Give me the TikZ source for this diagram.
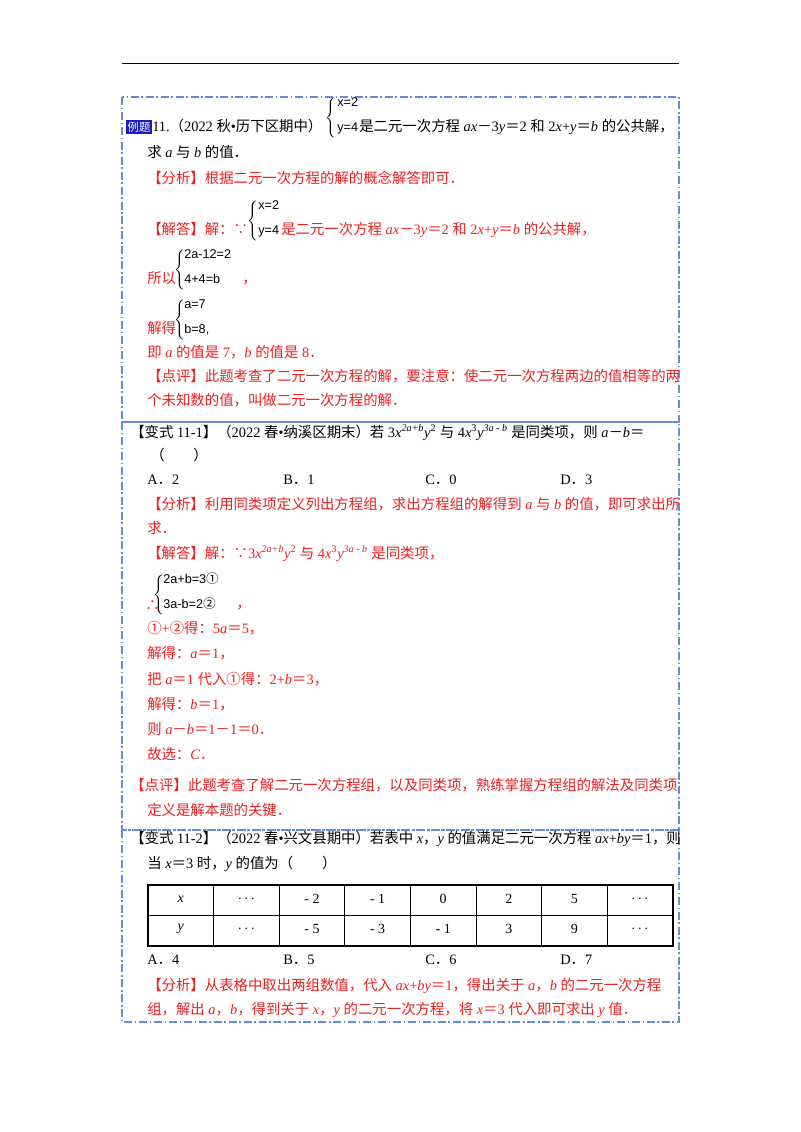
\documentclass[tikz,border=0pt]{standalone}
\usepackage{fontspec}
\setmainfont{Liberation Serif}
\newfontfamily\cjkfont{Noto Sans CJK SC}
\newfontfamily\sansf{Liberation Sans}
\XeTeXinterchartokenstate=1
\newXeTeXintercharclass\cjkcls
\newcount\cc
\def\setrange#1#2{\cc=#1 \loop\XeTeXcharclass\cc=\cjkcls\ifnum\cc<#2 \advance\cc by 1 \repeat}
\setrange{"3000}{"303F}
\setrange{"4E00}{"9FFF}
\setrange{"FF00}{"FFEF}
\setrange{"2234}{"2235}
\setrange{"2460}{"24FF}
\XeTeXinterchartoks 0 \cjkcls = {\begingroup\cjkfont}
\XeTeXinterchartoks 4095 \cjkcls = {\begingroup\cjkfont}
\XeTeXinterchartoks \cjkcls 0 = {\endgroup}
\XeTeXinterchartoks \cjkcls 4095 = {\endgroup}
\newcommand\iv[1]{\textit{#1}}
\definecolor{bd}{RGB}{100,140,215}
\definecolor{rd}{RGB}{240,30,30}
\tikzset{
 t/.style={anchor=base west,inner sep=0pt,font=\fontsize{10.8}{12}\selectfont},
 tr/.style={t,text=rd},
 s/.style={anchor=base west,inner sep=0pt,font=\sansf\fontsize{9.5}{11}\selectfont},
 br/.style={anchor=west,inner sep=0pt},
 frame/.style={draw=bd,line width=0.8pt,dash pattern=on 6pt off 2pt on 1.2pt off 2pt}
}
\newcommand\mybrace{$\left\{\rule[-12pt]{0pt}{24pt}\right.$}
\begin{document}
\begin{tikzpicture}[x=0.75pt,y=-0.75pt]
\useasboundingbox[fill=white] (0,0) rectangle (800,1132);
\draw[line width=0.7pt] (122,63) -- (679,63);
\draw[frame] (122,97) rectangle (679,422);
\draw[frame] (122,422) rectangle (679,830);
\draw[frame] (122,830) rectangle (679,1022);
% box 1
\node[fill=blue!75!black!90,text=white,inner sep=1pt,font=\fontsize{8.5}{9}\selectfont] (lt) at (139,127) {例题};
\node[t] (q1) at (152,131) {11.（2022 秋•历下区期中）};
\node[br] (b1) at (325,118) {\mybrace};
\node[s] (b1a) at (337,106) {x=2};
\node[s] (b1b) at (337,131) {y=4};
\node[t] (q1b) at (359,131) {是二元一次方程 \iv{ax}－3\iv{y}＝2 和 2\iv{x}+\iv{y}＝\iv{b} 的公共解，};
\node[t] (q1c) at (147,157) {求 \iv{a} 与 \iv{b} 的值．};
\node[tr] (a1) at (147,183) {【分析】根据二元一次方程的解的概念解答即可．};
\node[tr] (a2) at (147,234) {【解答】解：∵};
\node[br] (b2) at (247,221) {\mybrace};
\node[s] (b2a) at (258,209) {x=2};
\node[s] (b2b) at (258,234) {y=4};
\node[tr] (a2b) at (281,234) {是二元一次方程 \iv{ax}－3\iv{y}＝2 和 2\iv{x}+\iv{y}＝\iv{b} 的公共解，};
\node[tr] (a3) at (147,283) {所以};
\node[br] (b3) at (174,270) {\mybrace};
\node[s] (b3a) at (184,258) {2a-12=2};
\node[s] (b3b) at (184,283) {4+4=b};
\node[tr] (a3b) at (242,283) {，};
\node[tr] (a4) at (147,333) {解得};
\node[br] (b4) at (174,320) {\mybrace};
\node[s] (b4a) at (184,308) {a=7};
\node[s] (b4b) at (184,333) {b=8,};
\node[tr] (a5) at (147,357) {即 \iv{a} 的值是 7，\iv{b} 的值是 8．};
\node[tr] (a6) at (147,381) {【点评】此题考查了二元一次方程的解，要注意：使二元一次方程两边的值相等的两};
\node[tr] (a7) at (147,405) {个未知数的值，叫做二元一次方程的解．};
% box 2
\node[t] (q2) at (130,437) {【变式 11-1】（2022 春•纳溪区期末）若 3\iv{x}\textsuperscript{\iv{2a+b}}\iv{y}\textsuperscript{2} 与 4\iv{x}\textsuperscript{3}\iv{y}\textsuperscript{\iv{3a} - \iv{b}} 是同类项，则 \iv{a}－\iv{b}＝};
\node[t] (q2b) at (150,460) {（　　）};
\node[t] (o1) at (147,484) {A．2};
\node[t] (o2) at (283,484) {B．1};
\node[t] (o3) at (425,484) {C．0};
\node[t] (o4) at (560,484) {D．3};
\node[tr] (c1) at (147,509) {【分析】利用同类项定义列出方程组，求出方程组的解得到 \iv{a} 与 \iv{b} 的值，即可求出所};
\node[tr] (c2) at (147,533) {求．};
\node[tr] (c3) at (147,558) {【解答】解：∵3\iv{x}\textsuperscript{\iv{2a+b}}\iv{y}\textsuperscript{2} 与 4\iv{x}\textsuperscript{3}\iv{y}\textsuperscript{\iv{3a} - \iv{b}} 是同类项，};
\node[tr] (c4) at (145,610) {∴};
\node[br] (b5) at (153,595) {\mybrace};
\node[s] (b5a) at (163,583) {2a+b=3①};
\node[s] (b5b) at (163,608) {3a-b=2②};
\node[tr] (c4b) at (236,608) {，};
\node[tr] (c5) at (147,633) {①+②得：5\iv{a}＝5，};
\node[tr] (c6) at (147,658) {解得：\iv{a}＝1，};
\node[tr] (c7) at (147,684) {把 \iv{a}＝1 代入①得：2+\iv{b}＝3，};
\node[tr] (c8) at (147,709) {解得：\iv{b}＝1，};
\node[tr] (c9) at (147,734) {则 \iv{a}－\iv{b}＝1－1＝0．};
\node[tr] (c10) at (147,759) {故选：\iv{C}．};
\node[tr] (c11) at (130,790) {【点评】此题考查了解二元一次方程组，以及同类项，熟练掌握方程组的解法及同类项};
\node[tr] (c12) at (147,815) {定义是解本题的关键．};
% box 3
\node[t] (q3) at (130,843) {【变式 11-2】（2022 春•兴文县期中）若表中 \iv{x}，\iv{y} 的值满足二元一次方程 \iv{ax}+\iv{by}＝1，则};
\node[t] (q3b) at (147,868) {当 \iv{x}＝3 时，\iv{y} 的值为（　　）};
\draw[line width=0.8pt] (148,885) rectangle (673,946);
\draw[line width=0.6pt] (148,915) -- (673,915);
\foreach \i in {1,...,7} {\draw[line width=0.6pt] ({148+\i*65.6},885) -- ({148+\i*65.6},946);}
\foreach \v [count=\i from 0] in {\iv{x},$\cdots$,- 2,- 1,0,2,5,$\cdots$}
  \node[inner sep=0pt,font=\fontsize{10.5}{12}\selectfont] (tx\i) at ({180.8+\i*65.6},899) {\v};
\foreach \v [count=\i from 0] in {\iv{y},$\cdots$,- 5,- 3,- 1,3,9,$\cdots$}
  \node[inner sep=0pt,font=\fontsize{10.5}{12}\selectfont] (ty\i) at ({180.8+\i*65.6},929) {\v};
\node[t] (p1) at (147,964) {A．4};
\node[t] (p2) at (283,964) {B．5};
\node[t] (p3) at (425,964) {C．6};
\node[t] (p4) at (560,964) {D．7};
\node[tr] (d1) at (147,990) {【分析】从表格中取出两组数值，代入 \iv{ax}+\iv{by}＝1，得出关于 \iv{a}，\iv{b} 的二元一次方程};
\node[tr] (d2) at (147,1014) {组，解出 \iv{a}，\iv{b}，得到关于 \iv{x}，\iv{y} 的二元一次方程，将 \iv{x}＝3 代入即可求出 \iv{y} 值．};
\end{tikzpicture}
\end{document}
